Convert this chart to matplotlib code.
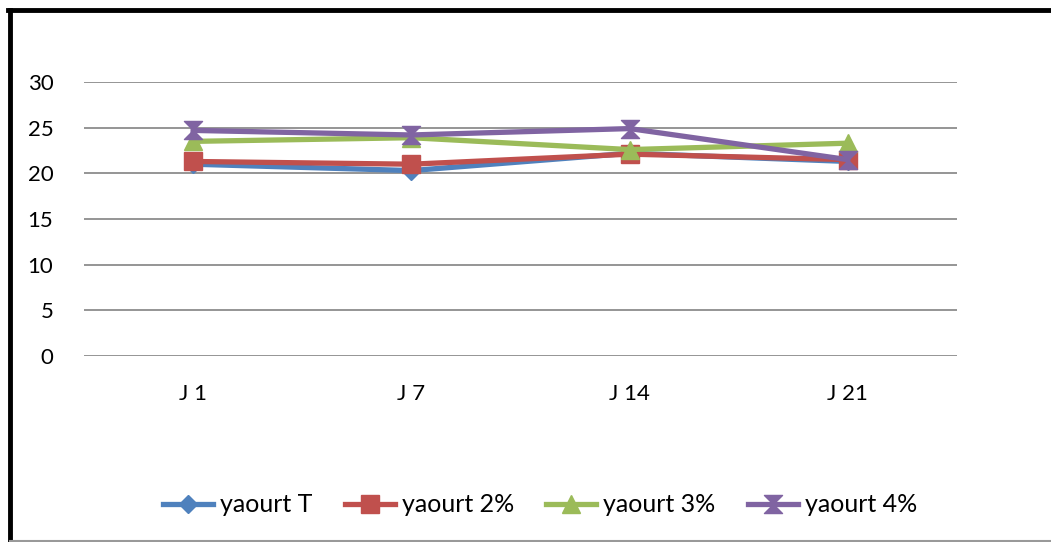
import matplotlib
matplotlib.use('Agg')
import matplotlib.pyplot as plt
from matplotlib.path import Path
from matplotlib.lines import Line2D

days = ['J 1', 'J 7', 'J 14', 'J 21']
yaourt_t = [21.0, 20.3, 22.2, 21.3]
yaourt_2 = [21.3, 21.0, 22.1, 21.5]
yaourt_3 = [23.5, 23.9, 22.6, 23.3]
yaourt_4 = [24.7, 24.2, 24.9, 21.5]

labels = ['yaourt T', 'yaourt 2%', 'yaourt 3%', 'yaourt 4%']
colors = ['#4F81BD', '#C0504D', '#9BBB59', '#8064A2']

# hourglass marker like excel's
hourglass = Path([(-1, 1), (1, 1), (-1, -1), (1, -1), (-1, 1)],
                 [Path.MOVETO, Path.LINETO, Path.LINETO, Path.LINETO, Path.CLOSEPOLY])
markers = ['D', 's', '^', hourglass]
msizes = [9, 13, 13, 13]

plt.rcParams['font.family'] = ['Lato', 'DejaVu Sans']

fig = plt.figure(figsize=(10.51, 5.42), dpi=100)
ax = fig.add_axes([84 / 1051, 1 - 356 / 542, 873 / 1051, 274 / 542])

xs = [i + 0.5 for i in range(len(days))]
series = [yaourt_t, yaourt_2, yaourt_3, yaourt_4]
for vals, lab, c, m, ms in zip(series, labels, colors, markers, msizes):
    ax.plot(xs, vals, color=c, lw=3.8, marker=m, ms=ms, mec=c, mfc=c, label=lab)

ax.set_xlim(0, 4)
ax.set_ylim(0, 30)
ax.set_yticks(range(0, 31, 5))
ax.set_xticks(xs)
ax.set_xticklabels(days)
ax.tick_params(length=0, labelsize=16, colors='black')
ax.tick_params(axis='y', pad=22)
ax.tick_params(axis='x', pad=20)
ax.grid(axis='y', color='#8c8c8c', lw=1.3)
ax.set_axisbelow(True)
for s in ax.spines.values():
    s.set_visible(False)

handles = [Line2D([], [], color=c, lw=3.8, marker=m, ms=ms, mec=c, mfc=c)
           for c, m, ms in zip(colors, markers, msizes)]
fig.legend(handles, labels, loc='center', bbox_to_anchor=(540 / 1051, 1 - 505 / 542),
           ncol=4, frameon=False, fontsize=18, handlelength=2.0, handletextpad=0.28,
           columnspacing=1.3)

# outer frame: thick black left/top, thin grey bottom
fig.add_artist(Line2D([10 / 1051, 10 / 1051], [0, 1 - 10 / 542], color='black', lw=3.5))
fig.add_artist(Line2D([8 / 1051, 1], [1 - 10 / 542, 1 - 10 / 542], color='black', lw=3.5))
fig.add_artist(Line2D([10 / 1051, 1], [1 / 542, 1 / 542], color='#999999', lw=1.5))

fig.savefig('out.png', dpi=100)
